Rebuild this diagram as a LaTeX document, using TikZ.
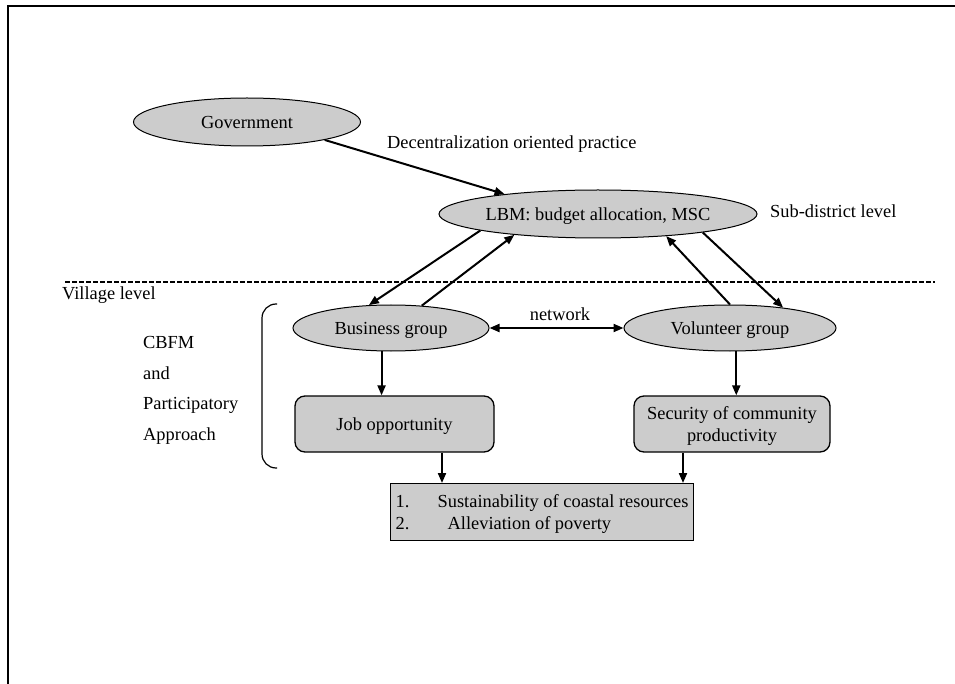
\documentclass[tikz,border=0pt]{standalone}
\usepackage{fontspec}
\setmainfont{Liberation Serif}
\usetikzlibrary{shapes.geometric,arrows.meta,calc}
% strut giving the first line of a multi-line node a full line height
\newcommand{\linestrut}{\rule{0pt}{16.4pt}}
\begin{document}
\begin{tikzpicture}[x=1pt,y=-1pt,
  every node/.style={font=\fontsize{18.4pt}{22pt}\selectfont},
  oval/.style={ellipse,draw,line width=1pt,fill=black!20,inner sep=0pt,text height=16.4pt,text depth=4pt},
  card/.style={rectangle,rounded corners=10pt,draw,line width=1.3pt,fill=black!20,inner sep=0pt,align=center},
  plainbox/.style={rectangle,draw,line width=1.3pt,fill=black!20},
  arr/.style={line width=2pt,-{Triangle[length=10pt,width=8pt]}},
  twoway/.style={line width=2pt,{Triangle[length=10pt,width=8pt]}-{Triangle[length=10pt,width=8pt]}},
  lbl/.style={inner sep=0pt,anchor=west}
]
\useasboundingbox (0,0) rectangle (955,684);

% page frame (left and top edges)
\draw[line width=2pt] (8,684) -- (8,6) -- (955,6);

% level separator
\draw[line width=1.3pt,dash pattern=on 4.5pt off 2.5pt] (65,282) -- (935,282);

% actors
\node[oval,minimum width=227pt,minimum height=48pt] (gov) at (247,122) {Government};
\node[oval,minimum width=270pt,minimum height=48pt] (lbm) at (598,214) {LBM: budget allocation, MSC};
\node[oval,minimum width=196pt,minimum height=46pt] (biz) at (391,328) {Business group};
\node[oval,minimum width=212pt,minimum height=46pt] (vol) at (730,328) {Volunteer group};

% outcomes
\node[card,minimum width=199pt,minimum height=56pt,text height=17pt,text depth=4pt] (job) at (394.5,424) {Job opportunity};
\node[card,minimum width=196pt,minimum height=56pt] (sec) at (732,424) {\linestrut Security of community\\productivity};
\node[plainbox,anchor=north west,inner xsep=5pt,inner ysep=0pt,minimum height=57pt,align=left] (bot) at (390,483)
  {\linestrut\makebox[42pt][l]{1.}Sustainability of coastal resources\\\makebox[52pt][l]{2.}Alleviation of poverty};

% labels
\node[lbl] (dec) at (387,144) {Decentralization oriented practice};
\node[lbl] (sub) at (770,211) {Sub-district level};
\node[lbl] (vil) at (62,295) {Village level};
\node[lbl] (cbfm) at (143,342) {CBFM};
\node[lbl] (and) at (143,373) {and};
\node[lbl] (part) at (143,405) {Participatory};
\node[lbl] (appr) at (143,436) {Approach};
\node[inner sep=0pt] (net) at (560,314) {network};

% bracket grouping the village-level part
\draw[line width=1.2pt,rounded corners=14pt] (277,304) -- (262,304) -- (262,468) -- (277,468);

% connectors
\draw[arr] (gov.-13) -- (lbm.168);
\draw[arr] (lbm.188) -- (biz.134);
\draw[arr] (biz.36) -- (lbm.194);
\draw[arr] (vol.90) -- (lbm.-18);
\draw[arr] (lbm.-10) -- (vol.21);
\draw[twoway] (biz.east) -- (vol.west);
\draw[arr] (biz.248) -- (biz.248 |- job.north);
\draw[arr] (vol.285) -- (vol.285 |- sec.north);
\draw[arr] ([xshift=47.5pt]job.south) -- ([xshift=47.5pt]job.south |- bot.north);
\draw[arr] ([xshift=-49pt]sec.south) -- ([xshift=-49pt]sec.south |- bot.north);
\end{tikzpicture}
\end{document}
